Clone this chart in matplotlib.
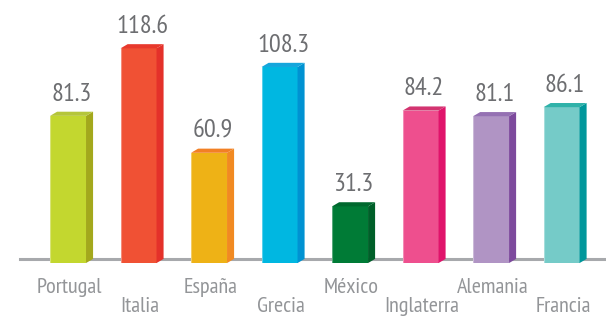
import matplotlib
matplotlib.use("Agg")
from matplotlib import pyplot as plt
from matplotlib.patches import Polygon
from matplotlib import font_manager
import numpy as np

countries = ["Portugal", "Italia", "España", "Grecia", "México", "Inglaterra", "Alemania", "Francia"]
values = [81.3, 118.6, 60.9, 108.3, 31.3, 84.2, 81.1, 86.1]
front_colors = ["#C3D72F", "#F05134", "#EEB216", "#00B7E1", "#007B36", "#EE4F8E", "#B094C4", "#75CBC8"]
side_colors = ["#A3A81C", "#E4312A", "#F18A22", "#0092D2", "#005F29", "#E0146B", "#7D4A9D", "#00979B"]
top_colors = ["#B5C63A", "#E8392C", "#F28024", "#15A6DC", "#00682E", "#D33470", "#9571B3", "#2FB2A9"]

names = {f.name for f in font_manager.fontManager.ttflist}
narrow = next((n for n in ["PT Sans Narrow", "Open Sans Condensed", "Fira Sans Condensed",
                           "Liberation Sans Narrow"] if n in names), "DejaVu Sans")
fam = [narrow, "DejaVu Sans"]

fig = plt.figure(figsize=(6.06, 3.17), dpi=100)
ax = fig.add_axes([0, 0, 1, 1])
ax.set_xlim(-0.965, 7.63)
ax.set_ylim(-29.8, 145.3)
ax.axis("off")

# baseline
ax.axhline(2.2, xmin=0.033, xmax=1.0, color="#A7A9AC", lw=2.2, zorder=1)

w = 0.51
dx = 0.1
dy = 2.3
x = np.arange(len(values))
ax.bar(x, values, width=w, color=front_colors, zorder=2, linewidth=0)
for i, v in enumerate(values):
    l, r = x[i] - w / 2, x[i] + w / 2
    side = Polygon([(r, 0), (r, v), (r + dx, v + dy), (r + dx, dy)],
                   closed=True, facecolor=side_colors[i], edgecolor="none", zorder=2)
    top = Polygon([(l, v), (r, v), (r + dx, v + dy), (l + dx, v + dy)],
                  closed=True, facecolor=top_colors[i], edgecolor="none", zorder=2)
    ax.add_patch(side)
    ax.add_patch(top)
    # light edge highlight
    ax.plot([l, l], [0, v], color="white", alpha=0.35, lw=0.8, zorder=3)

    ax.annotate(f"{v:.1f}", xy=(x[i] + 0.05, v), xytext=(0, 11), textcoords="offset points",
                ha="center", va="baseline", fontsize=19, color="#6D6E71", family=fam)
    off = -21.6 if i % 2 == 0 else -35.3
    ax.annotate(countries[i], xy=(x[i] + 0.02, 0), xytext=(0, off), textcoords="offset points",
                ha="center", va="baseline", fontsize=16, color="#939598", family=fam)

fig.savefig("out.png", dpi=100)
